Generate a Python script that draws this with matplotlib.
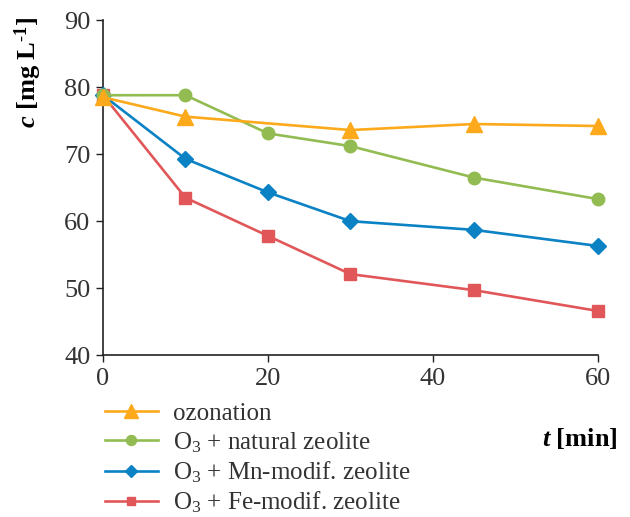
import matplotlib
matplotlib.use("Agg")
import matplotlib.pyplot as plt

plt.rcParams['font.family'] = ['Liberation Serif', 'DejaVu Serif']
plt.rcParams['mathtext.fontset'] = 'custom'
plt.rcParams['mathtext.rm'] = 'Liberation Serif'
plt.rcParams['mathtext.it'] = 'Liberation Serif:italic'
plt.rcParams['mathtext.bf'] = 'Liberation Serif:bold'
plt.rcParams['mathtext.bfit'] = 'Liberation Serif:bold:italic'

# Concentration over time for each treatment
t_ozonation = [0, 10, 30, 45, 60]
c_ozonation = [78.5, 75.6, 73.6, 74.5, 74.2]

t_natural = [0, 10, 20, 30, 45, 60]
c_natural = [78.8, 78.8, 73.1, 71.2, 66.5, 63.3]

t_mn = [0, 10, 20, 30, 45, 60]
c_mn = [78.8, 69.3, 64.3, 60.0, 58.7, 56.3]

t_fe = [0, 10, 20, 30, 45, 60]
c_fe = [78.8, 63.5, 57.8, 52.1, 49.7, 46.6]

labels = ["ozonation", "O$_3$ + natural zeolite",
          "O$_3$ + Mn-modif. zeolite", "O$_3$ + Fe-modif. zeolite"]
x_ticks = [0, 20, 40, 60]
y_ticks = [40, 50, 60, 70, 80, 90]

fig = plt.figure(figsize=(6.3, 5.17), dpi=100)
ax = fig.add_axes([0.1635, 0.313, 0.7855, 0.648])

lw = 1.9
common = dict(lw=lw, clip_on=False)
ax.plot(t_fe, c_fe, color='#E15759', marker='s', markersize=8, label=labels[3], zorder=3, **common)
ax.plot(t_mn, c_mn, color='#0A82C4', marker='D', markersize=8, label=labels[2], zorder=4, **common)
ax.plot(t_natural, c_natural, color='#92BC52', marker='o', markersize=9, label=labels[1], zorder=5, **common)
ax.plot(t_ozonation, c_ozonation, color='#FCA91C', marker='^', markersize=12, label=labels[0], zorder=6, **common)

ax.set_xlim(0, 60)
ax.set_ylim(40, 90)
ax.set_xticks(x_ticks)
ax.set_yticks(y_ticks)
ax.tick_params(labelsize=19, direction='out', length=5, width=1, colors='#222222', pad=4)
for s in ['top', 'right']:
    ax.spines[s].set_visible(False)
for s in ['left', 'bottom']:
    ax.spines[s].set_linewidth(1.2)
    ax.spines[s].set_color('#222222')
for lab in ax.get_xticklabels() + ax.get_yticklabels():
    lab.set_color('#333333')

ax.set_ylabel(r"$\mathbfit{c}$ [mg L$^{\mathbf{\text{-}1}}$]", fontsize=19, fontweight='bold')
ax.yaxis.set_label_coords(-0.12, 0.845)
fig.text(0.981, 0.151, r"$\mathbfit{t}$ [min]", fontsize=19, fontweight='bold', ha='right', va='center')

handles, labs = ax.get_legend_handles_labels()
order = [3, 2, 1, 0]
leg = fig.legend([handles[i] for i in order], [labs[i] for i in order],
                 loc='upper left', bbox_to_anchor=(0.167, 0.221), frameon=False,
                 fontsize=18, handlelength=2.1, handletextpad=0.6, labelspacing=0.19,
                 borderaxespad=0, borderpad=0, markerscale=0.8)
for txt in leg.get_texts():
    txt.set_color('#333333')

fig.savefig("out.png", dpi=100)
